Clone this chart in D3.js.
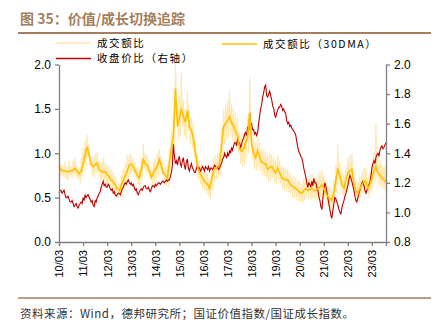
<!DOCTYPE html>
<html lang="zh">
<head>
<meta charset="UTF-8">
<title>图 35：价值/成长切换追踪</title>
<script src="https://cdn.jsdelivr.net/npm/d3@7"></script>
<style>
    body { margin: 0; background: #fff; }
    text { font-family: "Liberation Sans", Arial, sans-serif; fill: #000; }
    .cjk { font-family: "Noto Sans CJK SC", sans-serif; }
    .axis path, .axis line { stroke: #7f7f7f; stroke-width: 1.3; }
</style>
</head>
<body>
<svg width="435" height="326"></svg>
<script>
// months from 2010-03 onward
const startMonth = new Date(2010, 2, 1);
const xTickLabels = ["10/03","11/03","12/03","13/03","14/03","15/03","16/03",
                     "17/03","18/03","19/03","20/03","21/03","22/03","23/03"];
const leftTicks = [0.0, 0.5, 1.0, 1.5, 2.0];
const rightTicks = [0.8, 1.0, 1.2, 1.4, 1.6, 1.8, 2.0];

// 成交额比（30DMA）, one value per month
const turnover30 = [
0.85,0.81,0.80,0.80,0.79,0.80,0.80,0.81,0.83,0.80,0.77,0.80,0.88,0.98,1.07,0.98,0.88,0.85,0.87,0.89,
0.82,0.80,0.79,0.79,0.76,0.73,0.70,0.68,0.64,0.60,0.58,0.64,0.70,0.75,0.80,0.87,0.88,0.85,0.80,0.75,
0.72,0.82,0.93,0.88,0.86,0.80,0.73,0.78,0.82,0.85,0.93,0.85,0.78,0.75,0.72,0.90,1.05,1.20,1.73,1.30,
1.40,1.49,1.42,1.35,1.48,1.30,1.25,1.17,1.00,0.85,0.78,0.74,0.70,0.67,0.65,0.60,0.70,0.80,0.83,0.85,
0.87,1.10,1.30,1.34,1.37,1.41,1.35,1.30,1.25,1.20,1.05,1.02,1.05,1.12,1.19,1.46,1.10,1.00,0.95,1.03,
0.96,0.90,0.89,0.88,0.82,0.84,0.85,0.81,0.78,0.83,0.78,0.73,0.71,0.70,0.70,0.66,0.63,0.62,0.60,0.58,
0.56,0.55,0.58,0.60,0.58,0.59,0.60,0.58,0.58,0.60,0.62,0.64,0.60,0.55,0.51,0.49,0.47,0.55,0.70,0.83,
0.74,0.65,0.61,0.70,0.78,0.80,0.82,0.65,0.57,0.55,0.60,0.65,0.68,0.68,0.60,0.66,0.72,0.80,0.85,0.78,
0.75,0.72,0.70,0.67
];

// 成交额比 (daily, read at two points per month)
const turnoverDaily = [
1.00,0.75,0.88,0.74,0.86,0.73,0.90,0.72,0.85,0.70,0.92,0.74,0.86,0.72,0.93,0.75,0.95,0.73,0.86,0.70,
0.84,0.66,0.95,0.72,1.05,0.80,1.15,0.85,1.22,0.95,1.10,0.85,0.98,0.75,0.95,0.72,1.00,0.78,1.02,0.76,
0.92,0.70,0.90,0.68,0.95,0.67,0.90,0.65,0.88,0.64,0.85,0.62,0.82,0.60,0.80,0.56,0.75,0.52,0.68,0.50,
0.66,0.50,0.76,0.55,0.82,0.60,0.88,0.65,0.98,0.70,1.00,0.76,0.98,0.78,0.95,0.75,0.90,0.70,0.85,0.65,
0.84,0.62,0.95,0.72,1.10,0.82,1.00,0.78,0.98,0.75,0.92,0.70,0.84,0.62,0.90,0.66,0.95,0.70,1.00,0.74,
1.05,0.80,0.98,0.74,0.90,0.68,0.86,0.64,0.85,0.62,1.05,0.80,1.25,0.90,1.45,1.05,2.00,1.45,1.55,1.15,
1.65,1.20,1.90,1.30,1.60,1.20,1.50,1.15,1.70,1.25,1.50,1.10,1.40,1.05,1.35,0.95,1.15,0.85,1.00,0.70,
0.92,0.65,0.88,0.60,0.82,0.58,0.80,0.55,0.78,0.52,0.72,0.48,0.85,0.58,0.95,0.68,0.98,0.70,1.00,0.72,
1.02,0.75,1.30,0.95,1.50,1.10,1.55,1.15,1.60,1.18,1.70,1.22,1.55,1.15,1.50,1.10,1.45,1.05,1.40,1.00,
1.25,0.88,1.20,0.85,1.22,0.88,1.30,0.95,1.40,1.00,1.86,1.20,1.30,0.92,1.18,0.82,1.12,0.80,1.20,0.85,
1.12,0.80,1.05,0.75,1.05,0.74,1.02,0.72,0.98,0.68,1.00,0.70,1.00,0.72,0.95,0.68,0.92,0.65,0.98,0.70,
0.92,0.65,0.86,0.60,0.85,0.58,0.84,0.57,0.82,0.56,0.78,0.54,0.75,0.50,0.74,0.50,0.72,0.48,0.70,0.46,
0.68,0.45,0.66,0.44,0.72,0.48,0.75,0.50,0.72,0.48,0.74,0.48,0.76,0.50,0.72,0.47,0.72,0.46,0.76,0.48,
0.80,0.50,0.82,0.52,0.75,0.48,0.68,0.44,0.64,0.40,0.62,0.38,0.60,0.36,0.70,0.45,0.88,0.55,1.10,0.65,
0.90,0.58,0.80,0.52,0.75,0.50,0.85,0.58,0.95,0.65,0.98,0.68,1.00,0.70,0.80,0.52,0.70,0.46,0.68,0.45,
0.74,0.50,0.80,0.54,0.84,0.56,0.84,0.55,0.74,0.50,0.80,0.55,0.88,0.60,1.00,0.68,1.34,0.72,0.95,0.65,
0.92,0.62,0.88,0.60,0.86,0.58,0.84,0.56
];

// 收盘价比（右轴）, read at two points per month
const closeRatio = [
1.13,1.15,1.15,1.13,1.14,1.15,1.12,1.10,1.10,1.11,1.09,1.07,1.07,1.08,1.06,1.04,1.05,1.06,1.04,1.03,
1.05,1.06,1.07,1.06,1.10,1.08,1.12,1.10,1.11,1.12,1.10,1.09,1.07,1.08,1.05,1.04,1.08,1.07,1.10,1.11,
1.13,1.14,1.17,1.19,1.21,1.18,1.19,1.17,1.17,1.19,1.18,1.16,1.15,1.16,1.13,1.14,1.12,1.11,1.12,1.13,
1.13,1.12,1.14,1.16,1.17,1.19,1.20,1.19,1.21,1.22,1.20,1.19,1.20,1.18,1.19,1.17,1.15,1.16,1.13,1.12,
1.14,1.15,1.16,1.15,1.17,1.18,1.18,1.16,1.16,1.17,1.15,1.14,1.16,1.18,1.18,1.17,1.19,1.18,1.19,1.20,
1.20,1.19,1.20,1.21,1.21,1.20,1.21,1.22,1.21,1.22,1.22,1.24,1.27,1.32,1.46,1.38,1.33,1.35,1.32,1.36,
1.38,1.33,1.31,1.35,1.37,1.32,1.29,1.34,1.36,1.30,1.28,1.31,1.33,1.30,1.29,1.27,1.27,1.30,1.32,1.29,
1.30,1.28,1.29,1.31,1.30,1.28,1.31,1.30,1.29,1.31,1.28,1.30,1.30,1.29,1.30,1.32,1.31,1.30,1.31,1.29,
1.30,1.32,1.33,1.36,1.37,1.40,1.38,1.37,1.40,1.38,1.42,1.40,1.44,1.42,1.45,1.47,1.47,1.45,1.50,1.47,
1.47,1.44,1.46,1.49,1.50,1.53,1.54,1.52,1.58,1.55,1.67,1.60,1.60,1.56,1.56,1.53,1.54,1.52,1.54,1.60,
1.65,1.70,1.73,1.78,1.81,1.85,1.86,1.79,1.78,1.80,1.82,1.79,1.76,1.72,1.70,1.66,1.64,1.67,1.69,1.71,
1.71,1.73,1.72,1.69,1.70,1.68,1.67,1.62,1.60,1.61,1.58,1.59,1.57,1.56,1.55,1.54,1.52,1.48,1.44,1.41,
1.40,1.38,1.37,1.34,1.30,1.27,1.24,1.20,1.17,1.20,1.19,1.17,1.21,1.18,1.23,1.20,1.20,1.17,1.15,1.11,
1.08,1.04,1.02,1.10,1.15,1.20,1.18,1.14,1.10,1.06,1.02,0.98,0.96,1.01,1.06,1.10,1.09,1.07,1.05,1.02,
1.00,0.99,1.03,1.06,1.08,1.11,1.13,1.16,1.18,1.22,1.25,1.23,1.21,1.18,1.15,1.11,1.08,1.07,1.10,1.13,
1.15,1.18,1.20,1.21,1.18,1.15,1.13,1.15,1.17,1.19,1.21,1.25,1.30,1.33,1.35,1.33,1.37,1.39,1.40,1.38,
1.42,1.44,1.45,1.43,1.44,1.46,1.47,1.46
];

const svg = d3.select("svg");
const margin = {left: 59, right: 49, top: 64.5, bottom: 84};
const W = 435, H = 326;

const monthDate = i => d3.timeMonth.offset(startMonth, i);
const halfMonthDate = i => d3.timeDay.offset(monthDate(Math.floor(i / 2)), (i % 2) * 15);

const x = d3.scaleTime()
    .domain([startMonth, d3.timeMonth.offset(startMonth, 163.5)])
    .range([margin.left, W - margin.right]);
const yL = d3.scaleLinear().domain([0, 2]).range([H - margin.bottom, margin.top]);
const yR = d3.scaleLinear().domain([0.8, 2]).range([H - margin.bottom, margin.top]);

// title
svg.append("text").attr("class", "cjk")
    .attr("x", 20).attr("y", 24)
    .style("font-size", "14px").style("font-weight", "bold").style("fill", "#a57f5d")
    .text("图 35：价值/成长切换追踪");
svg.append("line").attr("x1", 18).attr("x2", 431).attr("y1", 33).attr("y2", 33)
    .style("stroke", "#a57f5d").style("stroke-width", 2);

// bottom rule and source
svg.append("line").attr("x1", 18).attr("x2", 431).attr("y1", 298).attr("y2", 298)
    .style("stroke", "#a57f5d").style("stroke-width", 1.5);
svg.append("text").attr("class", "cjk")
    .attr("x", 20).attr("y", 318)
    .style("font-size", "11.5px").style("letter-spacing", "0.5px").style("fill", "#333")
    .text("资料来源：Wind，德邦研究所；国证价值指数/国证成长指数。");

// lines
const lineDaily = d3.line().x((d, i) => x(halfMonthDate(i))).y(d => yL(d));
const line30 = d3.line().x((d, i) => x(monthDate(i))).y(d => yL(d));
const lineClose = d3.line().x((d, i) => x(halfMonthDate(i))).y(d => yR(d));

svg.append("path").datum(turnoverDaily).attr("d", lineDaily)
    .style("fill", "none").style("stroke", "#ffe8b0").style("stroke-width", 1.2);
svg.append("path").datum(closeRatio).attr("d", lineClose)
    .style("fill", "none").style("stroke", "#c00000").style("stroke-width", 1.1);
svg.append("path").datum(turnover30).attr("d", line30)
    .style("fill", "none").style("stroke", "#ffc000").style("stroke-width", 1.6);

// axes
const tickDates = xTickLabels.map((d, i) => d3.timeYear.offset(startMonth, i));
const xAxis = svg.append("g").attr("class", "axis")
    .attr("transform", `translate(0,${H - margin.bottom})`)
    .call(d3.axisBottom(x).tickValues(tickDates).tickSizeOuter(0).tickSize(4)
        .tickFormat((d, i) => xTickLabels[i]));
xAxis.selectAll("text")
    .attr("transform", "rotate(-90)")
    .attr("x", -8).attr("y", 0).attr("dy", "0.35em")
    .style("text-anchor", "end").style("font-size", "11px");

svg.append("g").attr("class", "axis")
    .attr("transform", `translate(${margin.left},0)`)
    .call(d3.axisLeft(yL).tickValues(leftTicks).tickFormat(d3.format(".1f")).tickSize(4).tickSizeOuter(0))
    .selectAll("text").style("font-size", "12px").attr("x", -8);

svg.append("g").attr("class", "axis")
    .attr("transform", `translate(${W - margin.right},0)`)
    .call(d3.axisRight(yR).tickValues(rightTicks).tickFormat(d3.format(".1f")).tickSize(4).tickSizeOuter(0))
    .selectAll("text").style("font-size", "12px").attr("x", 8);

svg.selectAll(".axis .domain").style("fill", "none");

// legend
const legend = [
    {name: "成交额比", color: "#ffe8b0", x: 56, y: 43},
    {name: "成交额比（30DMA）", color: "#ffc000", x: 222, y: 44},
    {name: "收盘价比（右轴）", color: "#c00000", x: 56, y: 58.5}
];
const lg = svg.selectAll("g.legend").data(legend).join("g").attr("class", "legend")
    .attr("transform", d => `translate(${d.x},${d.y})`);
lg.append("line").attr("x1", 0).attr("x2", 35).attr("y1", 0).attr("y2", 0)
    .style("stroke", d => d.color).style("stroke-width", 1.5);
lg.append("text").attr("class", "cjk").attr("x", 41).attr("y", 0).attr("dy", "0.35em")
    .style("font-size", "10.5px").style("letter-spacing", "1.6px").text(d => d.name);
</script>
</body>
</html>
